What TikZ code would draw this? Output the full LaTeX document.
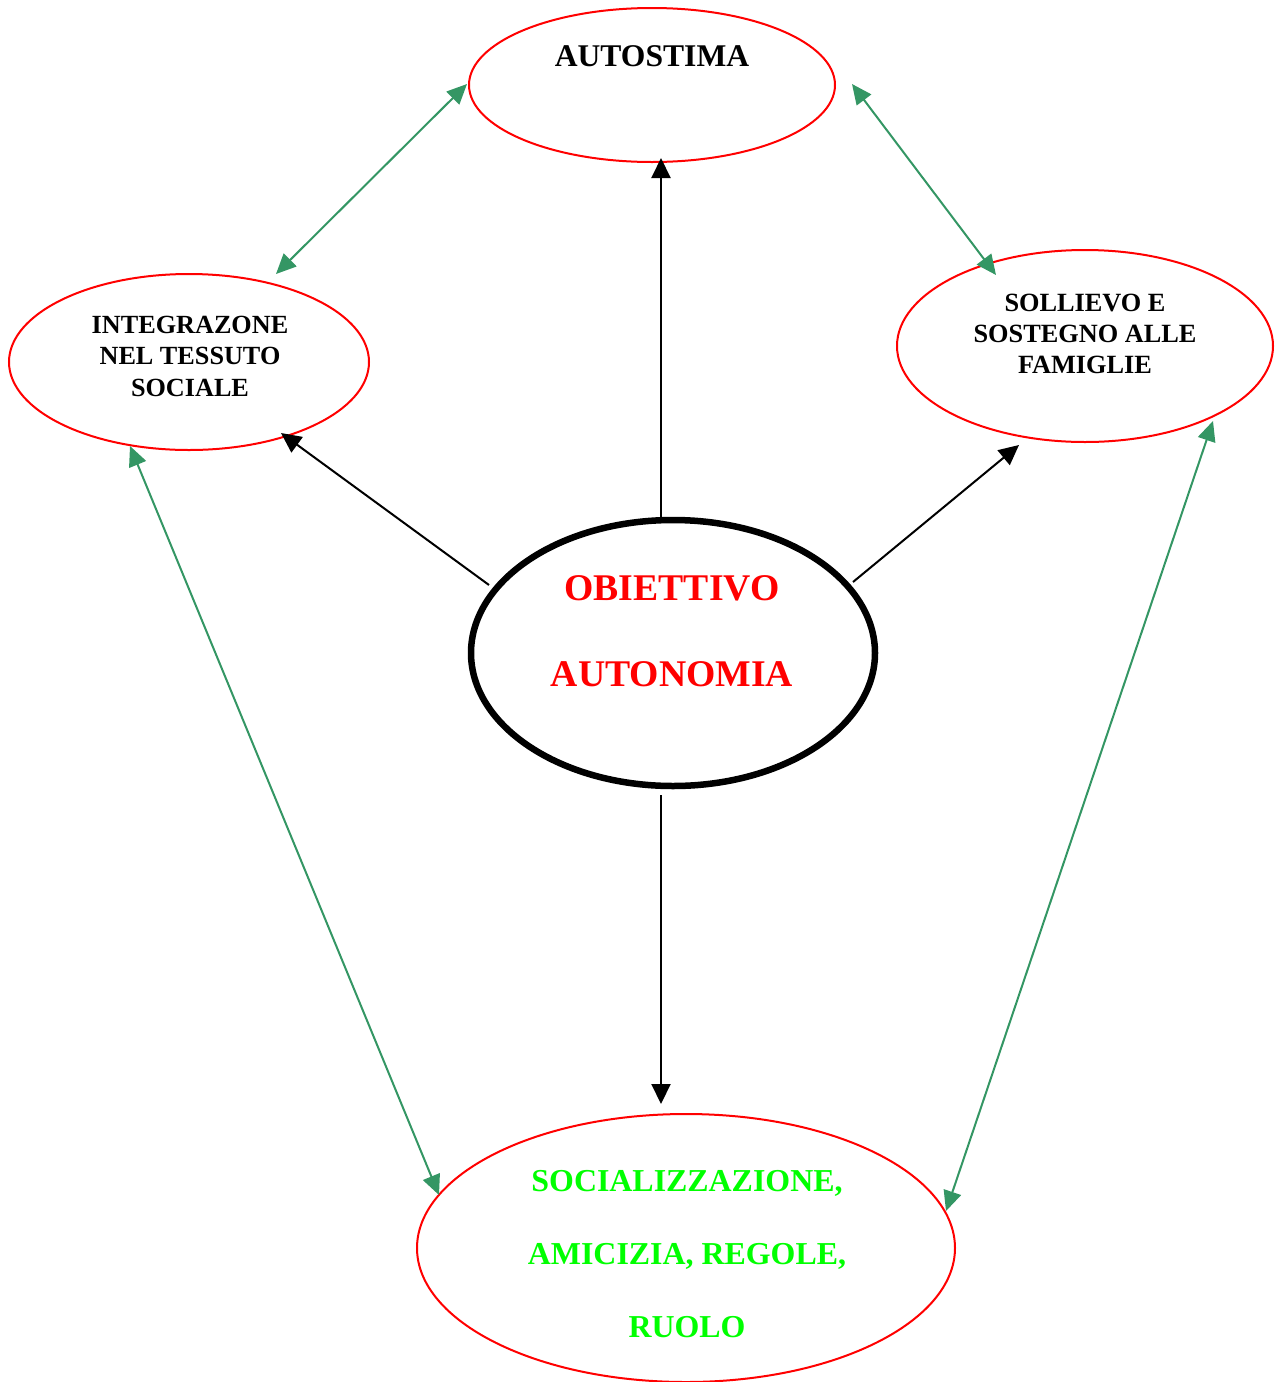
\documentclass[tikz,border=0pt]{standalone}
\usepackage{fontspec}
\setmainfont{Liberation Serif}
\usetikzlibrary{shapes.geometric,arrows.meta}
\definecolor{arrgreen}{RGB}{52,150,100}
\definecolor{txtgreen}{RGB}{0,255,0}
\tikzset{
  oval/.style={ellipse, draw=red, line width=2pt, inner sep=0pt},
  blk/.style={draw=black, line width=2pt, -{Triangle[length=20pt,width=19pt]}},
  grn/.style={draw=arrgreen, line width=2pt, {Triangle[length=20pt,width=18pt]}-{Triangle[length=20pt,width=18pt]}},
  lbl/.style={font=\bfseries, align=center, inner sep=0pt},
}
\begin{document}
\begin{tikzpicture}[x=1pt,y=-1pt]
\useasboundingbox (0,0) rectangle (1276,1382);
% ellipses
\node[oval, minimum width=366pt, minimum height=154pt] (auto) at (652,85) {};
\node[oval, minimum width=360pt, minimum height=176pt] (integ) at (189,362) {};
\node[oval, minimum width=376pt, minimum height=192pt] (soll) at (1085,346) {};
\node[oval, minimum width=538pt, minimum height=268pt] (soc) at (686,1248) {};
\node[ellipse, draw=black, line width=6.5pt, inner sep=0pt, minimum width=404pt, minimum height=266pt] (obj) at (673,653) {};
% texts
\node[lbl, font=\fontsize{31.6}{36}\selectfont\bfseries] (tauto) at (652,56) {AUTOSTIMA};
\node[lbl, font=\fontsize{26.2}{31.5}\selectfont\bfseries] (tinteg) at (190,356) {INTEGRAZONE\\NEL TESSUTO\\SOCIALE};
\node[lbl, font=\fontsize{26.3}{31}\selectfont\bfseries] (tsoll) at (1085,334) {SOLLIEVO E\\SOSTEGNO ALLE\\FAMIGLIE};
\node[lbl, text=red, font=\fontsize{37.7}{86}\selectfont\bfseries] (tobj) at (672,631) {OBIETTIVO\\AUTONOMIA};
\node[lbl, text=txtgreen, font=\fontsize{31.9}{73}\selectfont\bfseries] (tsoc) at (687,1254) {SOCIALIZZAZIONE,\\AMICIZIA, REGOLE,\\RUOLO};
% connector end points
\coordinate (o1) at (661,517);
\coordinate (a1) at (661,158);
\coordinate (o2) at (489,585);
\coordinate (i1) at (281,433);
\coordinate (o3) at (853,582);
\coordinate (s1) at (1019,445);
\coordinate (o4) at (661,795);
\coordinate (c1) at (661,1104);
\coordinate (a2) at (467,84);
\coordinate (i2) at (276,274);
\coordinate (a3) at (852,84);
\coordinate (s2) at (996,275);
\coordinate (i3) at (130,446);
\coordinate (c2) at (439,1195);
\coordinate (s3) at (1213,421);
\coordinate (c3) at (946,1211);
% black arrows
\draw[blk] (o1) -- (a1);
\draw[blk] (o2) -- (i1);
\draw[blk] (o3) -- (s1);
\draw[blk] (o4) -- (c1);
% green double arrows
\draw[grn] (a2) -- (i2);
\draw[grn] (a3) -- (s2);
\draw[grn] (i3) -- (c2);
\draw[grn] (s3) -- (c3);
\end{tikzpicture}
\end{document}
